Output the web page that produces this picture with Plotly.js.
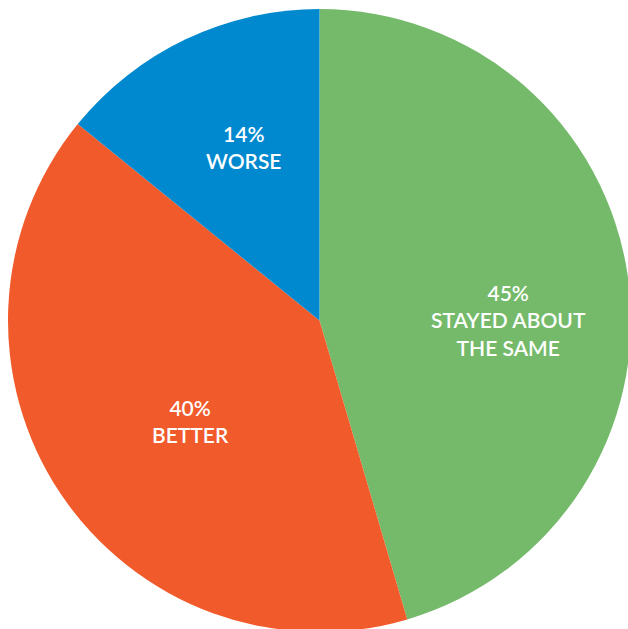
<!DOCTYPE html>
<html>
<head>
<meta charset="utf-8">
<script src="https://cdn.plot.ly/plotly-3.0.1.min.js"></script>
<style>html,body{margin:0;padding:0;background:#fff;overflow:hidden;}#chart{width:631px;height:632px;}</style>
</head>
<body>
<div id="chart"></div>
<script>
const categories = ["STAYED ABOUT<br>THE SAME", "BETTER", "WORSE"];
const values = [45, 40, 14];
const percentLabels = ["45%", "40%", "14%"];
const colors = ["#74BA6A", "#F15A2B", "#0089CF"];
// label anchor positions (paper fraction), placement only
const labelX = [508 / 631, 190 / 631, 243 / 631];
const labelY = [1 - 320 / 632, 1 - 421 / 632, 1 - 147 / 632];

const trace = {
  type: "pie",
  values: values,
  labels: categories,
  sort: false,
  direction: "clockwise",
  rotation: 0,
  marker: {colors: colors, line: {width: 0}},
  textinfo: "none",
  hoverinfo: "none",
  domain: {x: [8 / 631, 1], y: [0, 623 / 632]}
};

const annotations = categories.map((c, i) => ({
  xref: "paper", yref: "paper",
  x: labelX[i], y: labelY[i],
  xanchor: "center", yanchor: "middle",
  text: percentLabels[i] + "<br>" + c,
  showarrow: false,
  align: "center",
  font: {family: "Lato, 'Noto Sans', sans-serif", size: 21, color: "#ffffff", weight: 600}
}));

Plotly.newPlot("chart", [trace], {
  width: 631, height: 632,
  margin: {l: 0, r: 0, t: 0, b: 0},
  showlegend: false,
  paper_bgcolor: "#ffffff",
  annotations: annotations
}, {displayModeBar: false, staticPlot: true});
</script>
</body>
</html>
